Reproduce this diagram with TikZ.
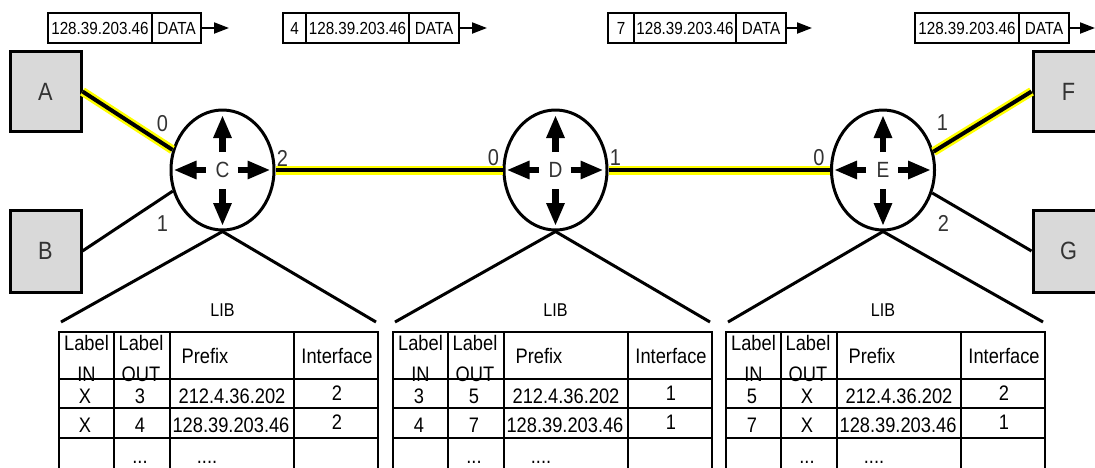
\documentclass[tikz,border=0pt]{standalone}
\usepackage{fontspec}
\setmainfont{Liberation Sans}[FakeStretch=0.87]
\usetikzlibrary{shapes.geometric,arrows.meta,calc}
\definecolor{hostgray}{HTML}{D9D9D9}
\definecolor{hlyellow}{HTML}{FFFF00}
\definecolor{txtgray}{HTML}{333333}
\newcommand\fsz[1]{\fontsize{#1}{#1}\selectfont}
\newcommand\RArrows[1]{%
 \draw[rarrow] ($(#1)+(0,-18)$) -- ($(#1)+(0,-55)$);
 \draw[rarrow] ($(#1)+(0,19)$) -- ($(#1)+(0,56)$);
 \draw[rarrow] ($(#1)+(-17,0)$) -- ($(#1)+(-49,0)$);
 \draw[rarrow] ($(#1)+(15,0)$) -- ($(#1)+(48,0)$);
}
\newcommand\LibTab[8]{%
 \begin{scope}[shift={(#1,0)}]
  \node[tcell] (#2-h1a) at (27.5,350) {Label};
  \node[tcell] (#2-h1b) at (27.5,381) {IN};
  \node[tcell] (#2-h2a) at (82,350) {Label};
  \node[tcell] (#2-h2b) at (82,381) {OUT};
  \node[tcell] (#2-h3) at (146,363) {Prefix};
  \node[tcell] (#2-h4) at (278,363) {Interface};
  \node[tcell] (#2-a1) at (26,403) {#3};
  \node[tcell] (#2-b1) at (81,403) {#4};
  \node[tcell] (#2-c1) at (173,403) {212.4.36.202};
  \node[tcell] (#2-d1) at (278,400) {#5};
  \node[tcell] (#2-a2) at (26,432) {#6};
  \node[tcell] (#2-b2) at (81,432) {#7};
  \node[tcell] (#2-c2) at (172,432) {128.39.203.46};
  \node[tcell] (#2-d2) at (278,429) {#8};
  \node[tcell] (#2-b3) at (81,463) {...};
  \node[tcell] (#2-c3) at (148,463) {....};
  \draw[tline] (0,332) rectangle (319,490);
  \draw[tline] (55,332) -- (55,490) (111,332) -- (111,490) (235,332) -- (235,490);
  \draw[tline] (0,379) -- (319,379) (0,408) -- (319,408) (0,438) -- (319,438);
 \end{scope}
 \node[lib] (#2-lib) at (#2 |- 0,310) {LIB};
 \coordinate (#2-tl) at (#1+2,322);
 \coordinate (#2-tr) at (#1+317,322);
 \draw[link] (#2-tl) -- (#2.south) -- (#2-tr);
}
\begin{document}
\begin{tikzpicture}[x=1pt,y=-1pt,
  host/.style={draw=black, line width=3pt, fill=hostgray, minimum width=71pt, minimum height=80pt, inner sep=0pt, font=\fsz{25}, text=txtgray},
  router/.style={draw=black, ellipse, line width=3pt, fill=white, minimum width=103pt, minimum height=120pt, inner sep=0pt, font=\fsz{22}, text=txtgray},
  port/.style={font=\fsz{23}, text=txtgray, inner sep=0pt},
  pkt/.style={draw=black, line width=1.8pt, minimum height=30pt, inner sep=0pt, font=\fsz{17.5}},
  pktarrow/.style={line width=2pt, -{Triangle[length=15pt,width=11pt]}},
  tcell/.style={font=\fsz{21}, inner sep=0pt, anchor=base},
  tline/.style={line width=2.5pt},
  lib/.style={font=\fsz{18.5}, inner sep=0pt},
  link/.style={line width=3pt},
  hilink/.style={line width=4pt, preaction={draw=hlyellow, line width=9pt}},
  rarrow/.style={line width=6.5pt, -{Triangle[length=23pt,width=17pt]}}
]
\useasboundingbox (0,0) rectangle (1095,467);
\clip (0,0) rectangle (1095,467);

% packets
\node[pkt, minimum width=104pt] (p1ip) at (100,28) {128.39.203.46};
\node[pkt, minimum width=49pt] (p1d) at (176.5,28) {DATA};
\coordinate (p1t) at (229,28);
\draw[pktarrow] (p1d.east) -- (p1t);

\node[pkt, minimum width=23pt] (p2l) at (294.5,28) {4};
\node[pkt, minimum width=103pt] (p2ip) at (357.5,28) {128.39.203.46};
\node[pkt, minimum width=50pt] (p2d) at (434,28) {DATA};
\coordinate (p2t) at (487,28);
\draw[pktarrow] (p2d.east) -- (p2t);

\node[pkt, minimum width=26pt] (p3l) at (621,28) {7};
\node[pkt, minimum width=102pt] (p3ip) at (685,28) {128.39.203.46};
\node[pkt, minimum width=50pt] (p3d) at (761,28) {DATA};
\coordinate (p3t) at (812,28);
\draw[pktarrow] (p3d.east) -- (p3t);

\node[pkt, minimum width=104pt] (p4ip) at (967,28) {128.39.203.46};
\node[pkt, minimum width=50pt] (p4d) at (1044,28) {DATA};
\coordinate (p4t) at (1095,28);
\draw[pktarrow] (p4d.east) -- (p4t);

% hosts
\node[host] (A) at (45.5,91.5) {A};
\node[host, minimum height=82pt] (B) at (45.5,251) {B};
\node[host] (F) at (1068.5,91.5) {F};
\node[host, minimum height=82pt] (G) at (1068.5,251) {G};

% routers
\node[router] (C) at (222.5,170) {C};
\node[router] (D) at (555.5,170) {D};
\node[router] (E) at (883,170) {E};

% links
\draw[hilink] (A.east) -- (C.158);
\draw[link] (B.east) -- (C.203);
\draw[hilink] (C.east) -- (D.west);
\draw[hilink] (D.east) -- (E.west);
\draw[hilink] (E.20) -- (F.west);
\draw[link] (E.-25) -- (G.west);

\RArrows{C}
\RArrows{D}
\RArrows{E}

% port labels
\node[port] (c0) at (162.5,123.5) {0};
\node[port] (c1) at (162.5,223.5) {1};
\node[port] (c2) at (282.5,158.5) {2};
\node[port] (d0) at (493.5,157.5) {0};
\node[port] (d1) at (615.5,157.5) {1};
\node[port] (e0) at (819,157.5) {0};
\node[port] (e1) at (942.5,122.5) {1};
\node[port] (e2) at (943.5,223.5) {2};

% tables
\LibTab{59}{C}{X}{3}{2}{X}{4}{2}
\LibTab{393}{D}{3}{5}{1}{4}{7}{1}
\LibTab{726}{E}{5}{X}{2}{7}{X}{1}
\end{tikzpicture}
\end{document}
